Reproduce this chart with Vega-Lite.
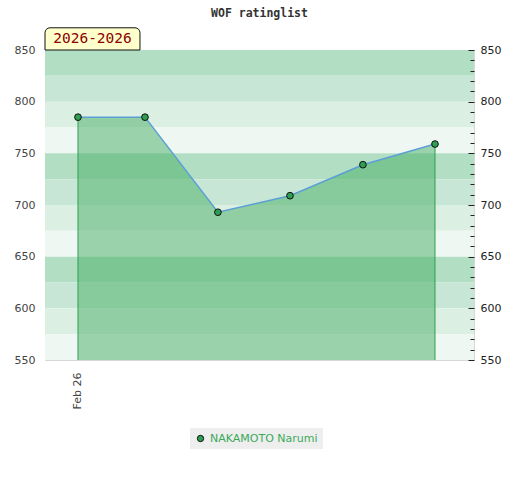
{
  "$schema": "https://vega.github.io/schema/vega-lite/v6.json",
  "description": "WOF ratinglist history for one player.",
  "autosize": "none",
  "padding": {"left": 45, "top": 50, "right": 46, "bottom": 120},
  "width": 429,
  "height": 310,
  "background": "white",
  "title": {
    "text": "WOF ratinglist",
    "font": "DejaVu Sans Mono",
    "fontSize": 11.5,
    "fontWeight": "bold",
    "color": "#333333",
    "offset": 8
  },
  "datasets": {
    "bands": [
      {"lo": 825, "hi": 850, "shade": "a"},
      {"lo": 800, "hi": 825, "shade": "b"},
      {"lo": 775, "hi": 800, "shade": "c"},
      {"lo": 750, "hi": 775, "shade": "d"},
      {"lo": 725, "hi": 750, "shade": "a"},
      {"lo": 700, "hi": 725, "shade": "b"},
      {"lo": 675, "hi": 700, "shade": "c"},
      {"lo": 650, "hi": 675, "shade": "d"},
      {"lo": 625, "hi": 650, "shade": "a"},
      {"lo": 600, "hi": 625, "shade": "b"},
      {"lo": 575, "hi": 600, "shade": "c"},
      {"lo": 550, "hi": 575, "shade": "d"}
    ],
    "ratings": [
      {"t": 0, "rating": 785, "player": "NAKAMOTO Narumi"},
      {"t": 0.924, "rating": 785, "player": "NAKAMOTO Narumi"},
      {"t": 1.93, "rating": 693, "player": "NAKAMOTO Narumi"},
      {"t": 2.924, "rating": 709, "player": "NAKAMOTO Narumi"},
      {"t": 3.93, "rating": 739, "player": "NAKAMOTO Narumi"},
      {"t": 4.924, "rating": 759, "player": "NAKAMOTO Narumi"}
    ],
    "label": [
      {"x0": -0.455, "x1": 0.855, "xm": 0.2, "y0": 850, "y1": 871.5, "ym": 860.5, "text": "2026-2026"}
    ]
  },
  "resolve": {"axis": {"y": "independent"}, "scale": {"color": "independent"}},
  "layer": [
    {
      "data": {"name": "bands"},
      "mark": {"type": "rect"},
      "encoding": {
        "x": {"datum": -0.455, "type": "quantitative", "scale": {"domain": [-0.455, 5.462], "nice": false, "zero": false},
          "axis": {"values": [0], "labelExpr": "'Feb 26'", "labelAngle": -90, "labelAlign": "right", "labelBaseline": "middle", "ticks": false, "domain": false, "grid": false, "labelPadding": 12, "labelFontSize": 11, "labelColor": "#444444", "labelFont": "DejaVu Sans", "title": null}},
        "x2": {"datum": 5.462},
        "y": {"field": "lo", "type": "quantitative", "scale": {"domain": [550, 850], "nice": false, "zero": false},
          "axis": {"orient": "left", "values": [550, 600, 650, 700, 750, 800, 850], "ticks": false, "domain": false, "grid": false, "labelOverlap": false, "labelPadding": 10, "labelFontSize": 11, "labelColor": "#444444", "labelFont": "DejaVu Sans", "title": null}},
        "y2": {"field": "hi"},
        "color": {"field": "shade", "type": "nominal", "scale": {"domain": ["a", "b", "c", "d"], "range": ["#b2dec4", "#c8e6d5", "#dcefe3", "#eff7f2"]}, "legend": null}
      }
    },
    {
      "data": {"name": "ratings"},
      "mark": {"type": "area", "color": "#45ad64", "opacity": 0.5},
      "encoding": {
        "x": {"field": "t", "type": "quantitative"},
        "y": {"field": "rating", "type": "quantitative",
          "axis": {"orient": "right", "zindex": 1, "values": [550, 560, 570, 580, 590, 600, 610, 620, 630, 640, 650, 660, 670, 680, 690, 700, 710, 720, 730, 740, 750, 760, 770, 780, 790, 800, 810, 820, 830, 840, 850],
            "labelExpr": "datum.value % 50 === 0 ? datum.label : ''",
            "labelOverlap": false,
            "tickSize": {"condition": {"test": "datum.value % 50 === 0", "value": -6}, "value": -4},
            "tickColor": "#222222", "domain": false, "grid": false, "labelPadding": 12, "labelFontSize": 11, "labelColor": "#222222", "labelFont": "DejaVu Sans", "title": null}},
        "y2": {"datum": 550}
      }
    },
    {
      "data": {"name": "ratings"},
      "transform": [{"filter": "datum.t === 0 || datum.t === 4.924"}],
      "mark": {"type": "rule", "color": "#2ea050", "strokeWidth": 1},
      "encoding": {
        "x": {"field": "t", "type": "quantitative"},
        "y": {"field": "rating", "type": "quantitative", "axis": null},
        "y2": {"datum": 550}
      }
    },
    {
      "data": {"name": "ratings"},
      "mark": {"type": "line", "color": "#5a9fd6", "strokeWidth": 1.5},
      "encoding": {
        "x": {"field": "t", "type": "quantitative"},
        "y": {"field": "rating", "type": "quantitative", "axis": null}
      }
    },
    {
      "data": {"name": "ratings"},
      "mark": {"type": "point", "filled": true, "size": 45, "stroke": "#111111", "strokeWidth": 1, "opacity": 1},
      "encoding": {
        "x": {"field": "t", "type": "quantitative"},
        "y": {"field": "rating", "type": "quantitative", "axis": null},
        "color": {"field": "player", "type": "nominal", "scale": {"range": ["#2e9e50"]},
          "legend": {"orient": "none", "legendX": 145, "legendY": 378, "title": null, "fillColor": "#eeeeee", "padding": 5, "labelColor": "#3aaa5a", "labelFont": "DejaVu Sans", "labelFontSize": 11, "symbolStrokeColor": "#111111", "symbolStrokeWidth": 1, "symbolSize": 40, "symbolType": "circle"}}
      }
    },
    {
      "data": {"name": "label"},
      "mark": {"type": "rect", "fill": "#ffffcc", "stroke": "#111111", "strokeWidth": 1, "cornerRadiusTopLeft": 5, "cornerRadiusTopRight": 5},
      "encoding": {
        "x": {"field": "x0", "type": "quantitative"},
        "x2": {"field": "x1"},
        "y": {"field": "y0", "type": "quantitative", "axis": null},
        "y2": {"field": "y1"}
      }
    },
    {
      "data": {"name": "label"},
      "mark": {"type": "text", "color": "#8b0000", "font": "DejaVu Sans Mono", "fontSize": 14.5, "align": "center", "baseline": "middle"},
      "encoding": {
        "x": {"field": "xm", "type": "quantitative"},
        "y": {"field": "ym", "type": "quantitative", "axis": null},
        "text": {"field": "text"}
      }
    }
  ],
  "config": {
    "view": {"stroke": "#d8d8d8", "strokeWidth": 1}
  }
}
